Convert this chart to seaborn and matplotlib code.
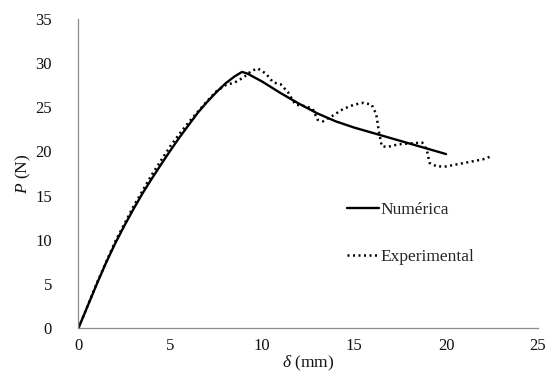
import matplotlib
matplotlib.use("Agg")
import matplotlib.pyplot as plt
import seaborn as sns
import pandas as pd

num_x = [0, 0.5, 1, 1.5, 2, 2.5, 3, 3.5, 4, 4.5, 5, 5.5, 6, 6.5, 7, 7.5, 8, 8.5, 8.9,
         9.2, 10, 11, 12, 13, 14, 15, 16, 17, 18, 19, 20]
num_y = [0, 2.5, 5.0, 7.4, 9.6, 11.6, 13.5, 15.3, 16.95, 18.55, 20.1, 21.6, 23.0, 24.4, 25.6,
         26.7, 27.7, 28.5, 29.0, 28.8, 27.9, 26.6, 25.4, 24.3, 23.4, 22.7, 22.1, 21.5, 20.9,
         20.3, 19.7]

exp_x = [0, 1, 2, 3, 4, 5, 5.5, 6, 7, 7.5, 8.0, 8.5, 9.0, 9.4, 9.75, 10.2, 10.6, 11.0, 11.4, 11.8,
         12.4, 12.75, 13.0, 13.3, 13.8, 14.4, 15.0, 15.5, 15.95, 16.2, 16.35, 16.5, 16.8, 17.4, 18.0,
         18.7, 18.95, 19.1, 19.5, 20.0, 20.5, 21.0, 21.5, 22.0, 22.4]
exp_y = [0, 5.1, 9.8, 13.8, 17.4, 20.6, 22.0, 23.3, 25.7, 26.8, 27.5, 27.8, 28.4, 29.1, 29.4, 28.8,
         27.8, 27.6, 26.7, 25.3, 25.1, 24.8, 23.6, 23.4, 24.0, 24.8, 25.3, 25.5, 25.3, 24.2, 22.2,
         20.6, 20.5, 20.8, 20.9, 21.0, 20.2, 18.7, 18.3, 18.3, 18.5, 18.7, 18.9, 19.1, 19.4]

labels = ["Numérica", "Experimental"]
x_ticks = [0, 5, 10, 15, 20, 25]
y_ticks = [0, 5, 10, 15, 20, 25, 30, 35]

sns.set_style("white")
plt.rcParams['font.family'] = ['Liberation Serif', 'DejaVu Serif']
plt.rcParams['mathtext.fontset'] = 'custom'
plt.rcParams['mathtext.it'] = 'Liberation Serif:italic'
plt.rcParams['mathtext.rm'] = 'Liberation Serif'

fig = plt.figure(figsize=(5.48, 3.78), dpi=100)
ax = fig.add_axes([0.1432, 0.132, 0.8385, 0.818])

df_num = pd.DataFrame({"x": num_x, "y": num_y})
df_exp = pd.DataFrame({"x": exp_x, "y": exp_y})

sns.lineplot(data=df_num, x="x", y="y", ax=ax, color="black", linewidth=1.7,
             sort=False, label=labels[0])
sns.lineplot(data=df_exp, x="x", y="y", ax=ax, color="black", linewidth=1.8,
             linestyle=(0, (0.8, 1.4)), sort=False, label=labels[1])

ax.set_xlim(0, 25)
ax.set_ylim(0, 35)
ax.set_xticks(x_ticks)
ax.set_yticks(y_ticks)
ax.tick_params(axis='x', direction='out', length=4, width=0.8, color='#8c8c8c',
               labelsize=12, labelcolor='#111111', pad=3)
ax.tick_params(axis='y', direction='out', length=5, width=0.8, color='#8c8c8c',
               labelsize=12, labelcolor='#111111', pad=14)
for s in ['top', 'right']:
    ax.spines[s].set_visible(False)
for s in ['left', 'bottom']:
    ax.spines[s].set_color('#8c8c8c')
    ax.spines[s].set_linewidth(0.9)

ax.set_xlabel(r'$\delta$ (mm)', fontsize=12.5, labelpad=0, color='#111111')
ax.set_ylabel(r'$P$ (N)', fontsize=12.5, labelpad=2, color='#111111')

leg = ax.legend(loc='upper left', bbox_to_anchor=(0.57, 0.43), frameon=False,
                fontsize=12.5, handlelength=1.8, handletextpad=0.1,
                labelspacing=1.75, borderaxespad=0)

fig.savefig("out.png", dpi=100)
